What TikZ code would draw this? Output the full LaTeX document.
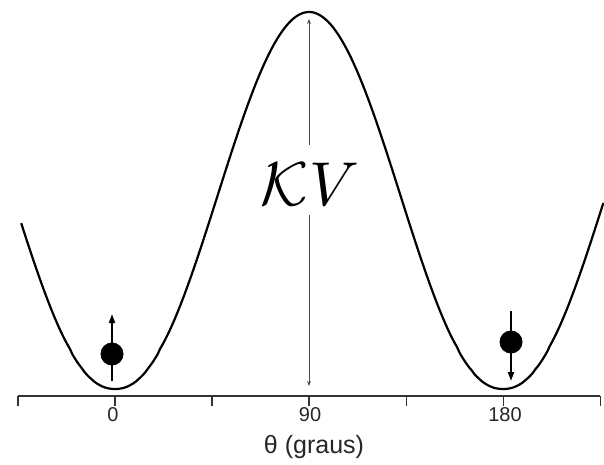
\documentclass[tikz,border=0pt]{standalone}
\usepackage{fontspec}
\setmainfont{Liberation Sans}
\usetikzlibrary{arrows.meta}
\begin{document}
\begin{tikzpicture}[x=1pt,y=-1pt,
  curve/.style={line width=2.2pt,black},
  axisline/.style={line width=1.4pt,black!80},
  tickmark/.style={line width=1.1pt,black!80},
  ticklabel/.style={font=\fontsize{20}{20}\selectfont,text=black!85,inner sep=0pt},
  dot/.style={circle,fill=black,minimum size=23pt,inner sep=0pt},
  spin/.style={line width=2pt,-{Triangle[length=9pt,width=6pt]}},
  gap/.style={line width=0.8pt,black!70}
]
\useasboundingbox (0,0) rectangle (604,465);
% energy curve
\draw[curve] plot[domain=-43.5:226.5,samples=240,smooth] ({115+2.156*\x},{389-377*((sin(\x))^2+0.0001)^1.1});
% axis
\coordinate (al) at (18,396);
\coordinate (ar) at (600,396);
\draw[axisline] (al) -- (ar);
\foreach \t in {-45,0,45,90,135,180,225}{
  \draw[tickmark] ({115+2.156*\t},396) -- ({115+2.156*\t},406);
}
\node[ticklabel] (l0) at (113,415) {0};
\node[ticklabel] (l90) at (310,415) {90};
\node[ticklabel] (l180) at (505,415) {180};
\node[font=\fontsize{25}{25}\selectfont,text=black!85,inner sep=0pt] (xl) at (314,447) {θ (graus)};
% barrier height
\node[inner sep=0pt] (kv) at (310,184) {\scalebox{6.2}{$\mathcal{K}V$}};
\coordinate (top) at (309,19);
\coordinate (bot) at (309,386);
\coordinate (gt) at (309,145);
\coordinate (gb) at (309,215);
\draw[gap,-{Stealth[length=5pt,width=4pt]}] (gt) -- (top);
\draw[gap,-{Stealth[length=5pt,width=4pt]}] (gb) -- (bot);
% spins
\node[dot] (d1) at (112,354) {};
\coordinate (s1a) at (112,381);
\coordinate (s1b) at (112,314);
\draw[spin] (s1a) -- (s1b);
\node[dot] (d2) at (511,342) {};
\coordinate (s2a) at (511,311);
\coordinate (s2b) at (511,381);
\draw[spin] (s2a) -- (s2b);
\end{tikzpicture}
\end{document}
